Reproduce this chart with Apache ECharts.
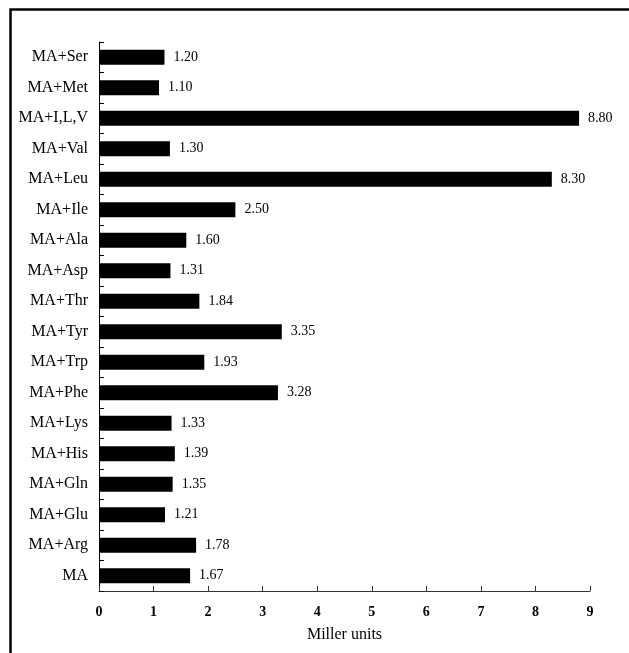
<!DOCTYPE html>
<html>
<head>
<meta charset="utf-8">
<script src="https://cdn.jsdelivr.net/npm/echarts@6/dist/echarts.min.js"></script>
<style>
  html, body { margin: 0; padding: 0; background: #fff; }
  #chart { width: 629px; height: 653px; }
</style>
</head>
<body>
<div id="chart"></div>
<script>
// Treatments, listed bottom to top on the vertical axis
const categories = [
  'MA', 'MA+Arg', 'MA+Glu', 'MA+Gln', 'MA+His', 'MA+Lys', 'MA+Phe', 'MA+Trp',
  'MA+Tyr', 'MA+Thr', 'MA+Asp', 'MA+Ala', 'MA+Ile', 'MA+Leu', 'MA+Val',
  'MA+I,L,V', 'MA+Met', 'MA+Ser'
];
// β-galactosidase activity in Miller units
const millerUnits = [
  1.67, 1.78, 1.21, 1.35, 1.39, 1.33, 3.28, 1.93,
  3.35, 1.84, 1.31, 1.60, 2.50, 8.30, 1.30,
  8.80, 1.10, 1.20
];
const xTicks = [0, 1, 2, 3, 4, 5, 6, 7, 8, 9];

const serif = '"Liberation Serif", "Times New Roman", serif';
const chart = echarts.init(document.getElementById('chart'), null, { renderer: 'canvas' });

chart.setOption({
  animation: false,
  backgroundColor: '#ffffff',
  grid: { left: 99, right: 39, top: 42, bottom: 62, containLabel: false },
  graphic: [{
    type: 'rect',
    shape: { x: 10.5, y: 9.5, width: 800, height: 800 },
    style: { fill: 'none', stroke: '#000', lineWidth: 2.5 },
    silent: true
  }],
  xAxis: {
    type: 'value',
    min: xTicks[0],
    max: xTicks[xTicks.length - 1],
    interval: 1,
    name: 'Miller units',
    nameLocation: 'middle',
    nameGap: 36,
    nameTextStyle: { fontFamily: serif, fontSize: 16, color: '#000' },
    axisLine: { show: true, lineStyle: { color: '#333', width: 1 } },
    axisTick: { show: true, inside: true, length: 5, lineStyle: { color: '#333' } },
    axisLabel: {
      fontFamily: serif, fontSize: 14, fontWeight: 'bold', color: '#000', margin: 14,
      formatter: v => String(v)
    },
    splitLine: { show: false }
  },
  yAxis: {
    type: 'category',
    data: categories,
    boundaryGap: true,
    axisLine: { show: true, lineStyle: { color: '#000', width: 1 } },
    axisTick: { show: true, inside: true, length: 5, lineStyle: { color: '#000' } },
    axisLabel: { fontFamily: serif, fontSize: 16, color: '#000', margin: 11 },
    splitLine: { show: false }
  },
  series: [{
    type: 'bar',
    data: millerUnits,
    barWidth: 15,
    itemStyle: { color: '#000' },
    label: {
      show: true,
      position: 'right',
      distance: 9,
      fontFamily: serif,
      fontSize: 14,
      color: '#000',
      formatter: p => p.value.toFixed(2)
    }
  }]
});
</script>
</body>
</html>
